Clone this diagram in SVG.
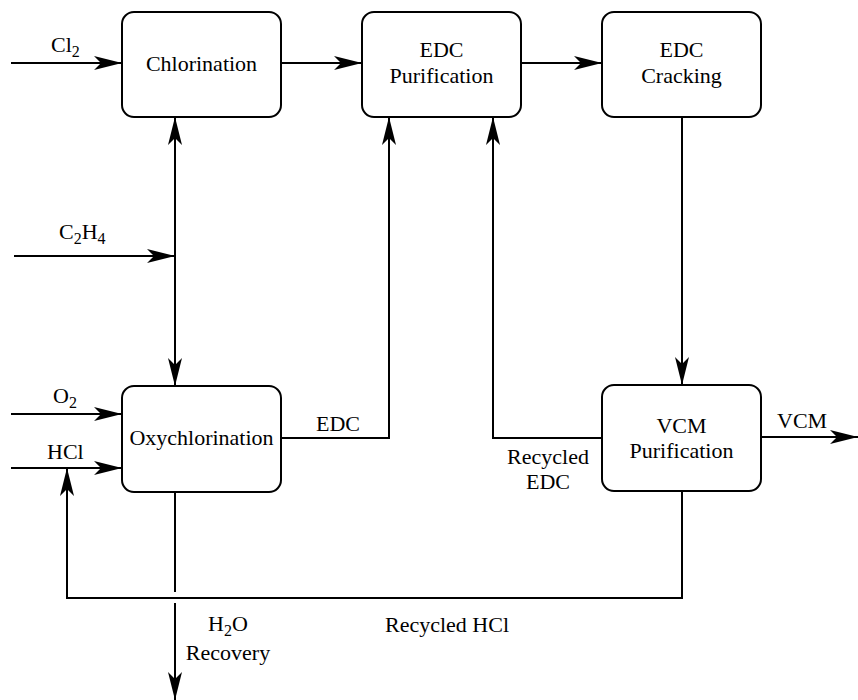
<svg xmlns="http://www.w3.org/2000/svg" width="858" height="700" viewBox="0 0 858 700">
<style>
.box{fill:#fff;stroke:#000;stroke-width:2}
.ln{fill:none;stroke:#000;stroke-width:2}
.arr{marker-end:url(#ah)}
text{font-family:"Liberation Serif","Times New Roman",serif;font-size:22px;fill:#000}
.c{text-anchor:middle}
.sub{font-size:16px}
</style>
<defs>
<marker id="ah" markerUnits="userSpaceOnUse" markerWidth="30" markerHeight="16" refX="28" refY="8" orient="auto-start-reverse">
<path d="M0,1 L28,8 L0,15 L7,8 Z" fill="#000"/>
</marker>
</defs>
<g id="connectors">
<path class="ln arr" d="M11,63 H122"/>
<path class="ln arr" d="M281,63 H362"/>
<path class="ln arr" d="M521,63 H602"/>
<path class="ln arr" d="M682,117 V385"/>
<path class="ln" d="M175,117 V386" style="marker-start:url(#ah);marker-end:url(#ah)"/>
<path class="ln arr" d="M14,256 H175"/>
<path class="ln arr" d="M11,414 H122"/>
<path class="ln arr" d="M11,468 H122"/>
<path class="ln arr" d="M281,438 H389 V117"/>
<path class="ln arr" d="M602,438 H493 V117"/>
<path class="ln arr" d="M761,437 H858"/>
<path class="ln arr" d="M682,491 V598 H67 V468"/>
<path class="ln" d="M175,492 V592"/>
<path class="ln arr" d="M175,603 V700"/>
</g>
<g id="chlorination">
<rect class="box" x="122" y="12" width="159" height="105" rx="12"/>
<text class="c" x="201.5" y="71">Chlorination</text>
</g>
<g id="edc-purification">
<rect class="box" x="362" y="12" width="159" height="105" rx="12"/>
<text class="c" x="441.5" y="57">EDC</text>
<text class="c" x="441.5" y="83">Purification</text>
</g>
<g id="edc-cracking">
<rect class="box" x="602" y="12" width="159" height="105" rx="12"/>
<text class="c" x="681.5" y="57">EDC</text>
<text class="c" x="681.5" y="83">Cracking</text>
</g>
<g id="oxychlorination">
<rect class="box" x="122" y="386" width="159" height="106" rx="12"/>
<text class="c" x="201.5" y="445">Oxychlorination</text>
</g>
<g id="vcm-purification">
<rect class="box" x="602" y="385" width="159" height="106" rx="12"/>
<text class="c" x="681.5" y="433">VCM</text>
<text class="c" x="681.5" y="458">Purification</text>
</g>
<g id="labels">
<text x="51" y="52">Cl<tspan class="sub" dy="5">2</tspan></text>
<text x="59" y="239">C<tspan class="sub" dy="5">2</tspan><tspan dy="-5">H</tspan><tspan class="sub" dy="5">4</tspan></text>
<text x="53" y="403">O<tspan class="sub" dy="5">2</tspan></text>
<text x="47" y="459">HCl</text>
<text x="316" y="431">EDC</text>
<text class="c" x="548" y="464">Recycled</text>
<text class="c" x="548" y="489">EDC</text>
<text x="777" y="428">VCM</text>
<text x="208" y="631">H<tspan class="sub" dy="5">2</tspan><tspan dy="-5">O</tspan></text>
<text class="c" x="228" y="660">Recovery</text>
<text x="385" y="632">Recycled HCl</text>
</g>
</svg>
